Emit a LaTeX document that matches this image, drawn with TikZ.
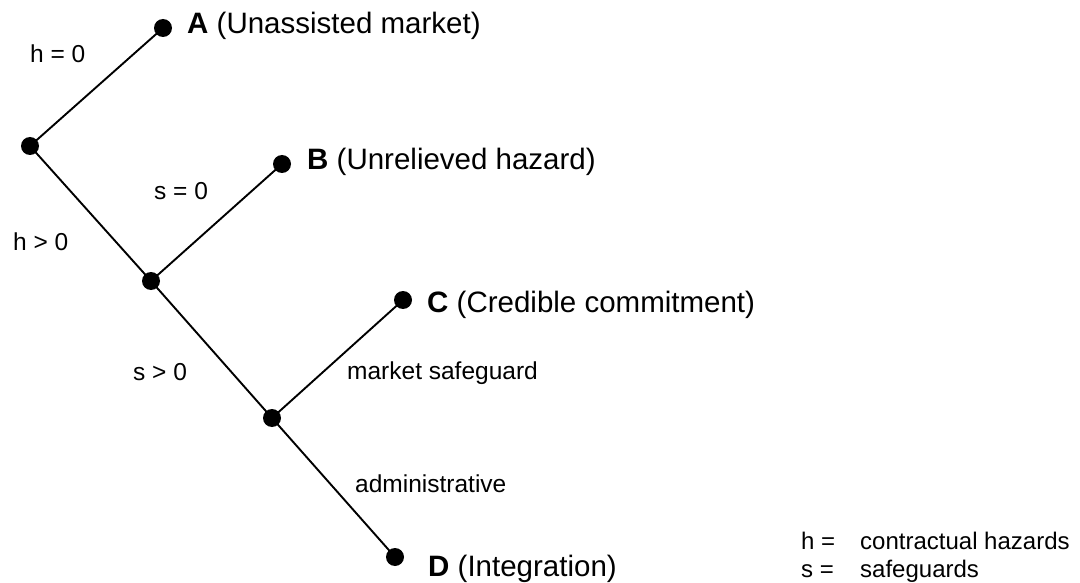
\documentclass[tikz,border=0pt]{standalone}
\usepackage{fontspec}
\setmainfont{Liberation Sans}
\begin{document}
\begin{tikzpicture}[x=1pt,y=-1pt,
  dot/.style={circle,fill=black,inner sep=0pt,minimum size=18pt},
  branch/.style={line width=1.9pt},
  outcome/.style={anchor=base west,inner sep=0pt,font=\fontsize{29.5}{34}\selectfont},
  cond/.style={anchor=base west,inner sep=0pt,font=\fontsize{24.5}{28}\selectfont},
  key/.style={anchor=base west,inner sep=0pt,font=\fontsize{24}{26}\selectfont}]
\useasboundingbox (0,0) rectangle (1080,583);
% decision points and outcomes
\node[dot] (root) at (30,146) {};
\node[dot] (A) at (163,28) {};
\node[dot] (n1) at (151,281) {};
\node[dot] (B) at (282,164) {};
\node[dot] (n2) at (272,418) {};
\node[dot] (C) at (403,300) {};
\node[dot] (D) at (395,557) {};
% branches
\draw[branch] (root.center) -- (A.center);
\draw[branch] (root.center) -- (n1.center);
\draw[branch] (n1.center) -- (B.center);
\draw[branch] (n1.center) -- (n2.center);
\draw[branch] (n2.center) -- (C.center);
\draw[branch] (n2.center) -- (D.center);
% outcome names
\node[outcome] (lA) at (187,34) {\textbf{A} (Unassisted market)};
\node[outcome] (lB) at (307,170) {\textbf{B} (Unrelieved hazard)};
\node[outcome] (lC) at (427,312) {\textbf{C} (Credible commitment)};
\node[outcome] (lD) at (428,576) {\textbf{D} (Integration)};
% branch conditions
\node[cond] (h0) at (30,63) {h = 0};
\node[cond] (hp) at (13,251) {h > 0};
\node[cond] (s0) at (154,200) {s = 0};
\node[cond] (sp) at (133,380) {s > 0};
\node[cond] (ms) at (347,379) {market safeguard};
\node[cond] (adm) at (355,492) {administrative};
% legend
\node[key] (kh) at (801,549) {h =};
\node[key] (kht) at (860,549) {contractual hazards};
\node[key] (ks) at (801,577) {s =};
\node[key] (kst) at (860,577) {safeguards};
\end{tikzpicture}
\end{document}
